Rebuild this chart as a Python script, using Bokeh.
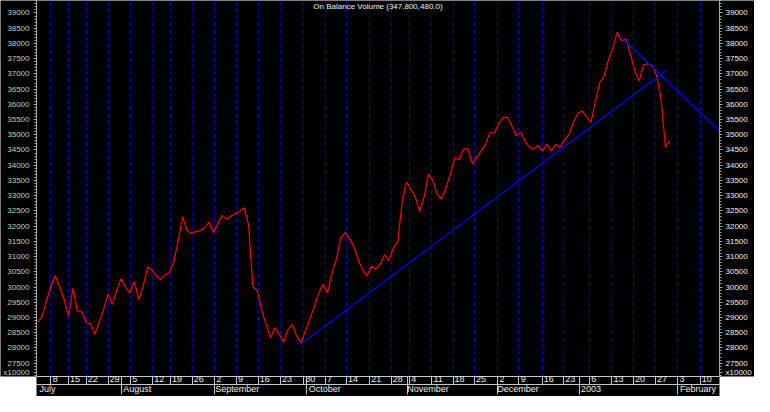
from bokeh.plotting import figure
from bokeh.models import (Range1d, LinearAxis, FixedTicker, Grid, Label,
                          BasicTickFormatter)
from bokeh.embed import file_html
from bokeh.resources import INLINE

# ---------------- data ----------------
# On Balance Volume, one value per trading day (units of 10000)
obv = [28857, 29046, 29550, 30054, 30370, 29991, 29582, 29046, 29960, 29204,
       29204, 28826, 28794, 28448, 28857, 29267, 29771, 29424, 29897, 30275,
       29991, 29802, 30180, 29582, 30023, 30653, 30558, 30370, 30244, 30401,
       30464, 30842, 31535, 32291, 31850, 31756, 31819, 31850, 31945, 32134,
       31787, 32071, 32354, 32228, 32323, 32417, 32480, 32606, 32050, 30023,
       29866, 29267, 28763, 28322, 28668, 28448, 28196, 28606, 28763, 28385,
       28165, 28574, 28952, 29362, 29802, 30086, 29802, 30433, 30905, 31598,
       31787, 31598, 31315, 30905, 30558, 30370, 30685, 30590, 30748, 31063,
       30874, 31283, 31472, 32795, 33457, 33205, 32953, 32480, 32953, 33709,
       33488, 33047, 32890, 33268, 33709, 34244, 34181, 34528, 34528, 34055,
       34276, 34465, 34685, 35063, 35063, 35347, 35567, 35567, 35284, 34969,
       35095, 34780, 34591, 34528, 34654, 34465, 34685, 34465, 34685, 34591,
       34843, 35000, 35410, 35693, 35788, 35599, 35410, 36071, 36701, 36922,
       37457, 37835, 38371, 38087, 38150, 37646, 37111, 36764, 37300, 37331,
       37268, 36922, 36166, 34591, 34811]
day_index = list(range(len(obv)))

# trend lines (day index, value)
trend_up_x = [60.0, 143.2]
trend_up_y = [28130, 37110]
trend_down_x = [132.8, 160.0]
trend_down_y = [38213, 34480]

# weekly (Monday) markers: day index and label
week_days = [3.0, 7.0, 11.0, 16.0, 21.1, 26.2, 30.2, 35.2, 40.3, 45.2, 50.2,
             55.3, 60.6, 65.5, 70.3, 75.6, 80.5, 84.7, 89.7, 94.6, 99.5, 104.8,
             109.6, 114.9, 119.8, 125.7, 130.8, 135.7, 140.7, 145.8, 150.9]
week_labels = ["8", "15", "22", "29", "5", "12", "19", "26", "2", "9", "16",
               "23", "30", "7", "14", "21", "28", "4", "11", "18", "25", "2",
               "9", "16", "23", "6", "13", "20", "27", "3", "10"]
month_days = [-3.0, 19.1, 40.3, 61.3, 84.3, 104.8, 123.5, 145.8]
month_labels = ["July", "August", "September", "October", "November",
                "December", "2003", "February"]

y_major = list(range(27500, 39001, 500))
y_minor = list(range(27100, 39401, 100))
unit_label_value = 27200
unit_label = "x10000"

TITLE = "On Balance Volume (347,800,480.0)"

# ---------------- layout ----------------
X_LO, X_HI = -0.3, 155.3
Y_LO, Y_HI = 27061, 39410
W, H = 754, 396
FONT = "'Liberation Sans', Arial, sans-serif"

has_axis_bg = "background_fill_color" in LinearAxis.properties()

p = figure(width=W, height=H, x_range=Range1d(X_LO, X_HI), y_range=Range1d(Y_LO, Y_HI),
           output_backend="svg", toolbar_location=None,
           x_axis_type=None, y_axis_type=None,
           background_fill_color="black",
           border_fill_color="white" if has_axis_bg else "black",
           min_border_left=0, min_border_right=0, min_border_top=0, min_border_bottom=0)
p.outline_line_color = None


def value_axis(label_color, standoff):
    ax = LinearAxis(ticker=FixedTicker(ticks=y_major + [unit_label_value],
                                       minor_ticks=y_minor),
                    formatter=BasicTickFormatter(use_scientific=False),
                    major_label_overrides={unit_label_value: unit_label})
    ax.axis_line_color = "#a8a8a8"
    ax.major_tick_line_color = "#a8a8a8"
    ax.minor_tick_line_color = "#a8a8a8"
    ax.major_tick_out = 3
    ax.major_tick_in = 0
    ax.minor_tick_out = 2
    ax.minor_tick_in = 0
    ax.major_label_standoff = standoff
    ax.major_label_text_color = label_color
    ax.major_label_text_font = FONT
    ax.major_label_text_font_size = "8px"
    if has_axis_bg:
        ax.background_fill_color = "black"
    return ax


p.add_layout(value_axis("#c8c8c8", 4), "left")
p.add_layout(value_axis("#f0f0f0", 3), "right")

# weekly dashed grid
p.add_layout(Grid(dimension=0, ticker=FixedTicker(ticks=week_days),
                  grid_line_color="#0000c8", grid_line_dash="4 3", grid_line_width=1))

FRAME_W = 754 - 66
PPD = (X_HI - X_LO) / FRAME_W  # data units per pixel (approx.)


def label_centers(starts, labels, char_w):
    out = []
    for s, t in zip(starts, labels):
        s = max(s, X_LO)
        out.append(round(s + (2 + 0.5 * char_w * len(t)) * PPD, 4))
    return out


day_centers = label_centers(week_days, week_labels, 4.6)
day_axis = LinearAxis(ticker=FixedTicker(ticks=day_centers,
                                         minor_ticks=week_days + month_days[1:]),
                      major_label_overrides={c: t for c, t in zip(day_centers, week_labels)})
month_centers = label_centers(month_days, month_labels, 4.6)
month_axis = LinearAxis(ticker=FixedTicker(ticks=month_centers, minor_ticks=month_days),
                        major_label_overrides={c: t for c, t in zip(month_centers, month_labels)})
for ax in (day_axis, month_axis):
    ax.axis_line_color = "#c8c8c8"
    ax.major_tick_out = 0
    ax.major_tick_in = 0
    ax.minor_tick_out = 10
    ax.minor_tick_in = 0
    ax.minor_tick_line_color = "#c8c8c8"
    ax.major_label_standoff = -11
    ax.major_label_text_color = "#f0f0f0"
    ax.major_label_text_font = FONT
    ax.major_label_text_font_size = "9px"
    if has_axis_bg:
        ax.background_fill_color = "black"
p.add_layout(day_axis, "below")
p.add_layout(month_axis, "below")

# series
p.line(day_index, obv, line_color="#ff0000", line_width=1.2)
p.line(trend_up_x, trend_up_y, line_color="#0000ff", line_width=1.2)
p.line(trend_down_x, trend_down_y, line_color="#0000ff", line_width=1.2)

p.add_layout(Label(x=(X_LO + X_HI) / 2, y=Y_HI, text=TITLE, text_align="center",
                   text_baseline="top", y_offset=-1, text_font=FONT,
                   text_font_size="8px", text_color="#f0f0f0"))

open("out.html", "w").write(file_html(p, INLINE))
